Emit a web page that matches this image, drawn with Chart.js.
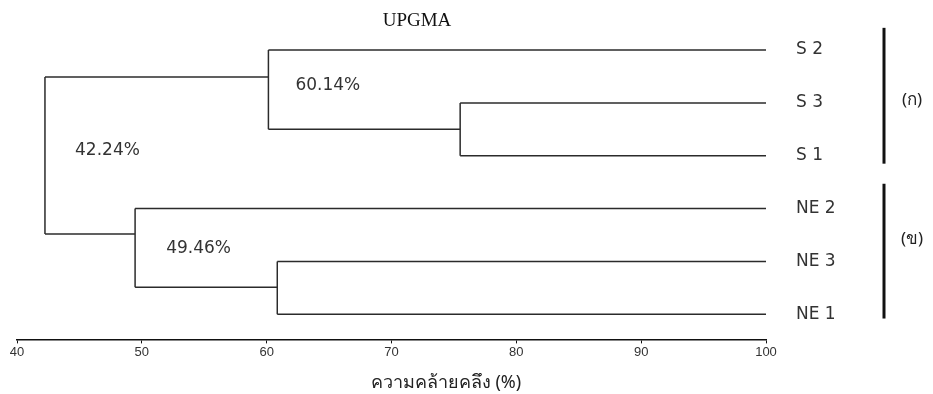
<!DOCTYPE html>
<html>
<head>
<meta charset="utf-8">
<script src="https://cdn.jsdelivr.net/npm/chart.js@4.4.1/dist/chart.umd.min.js"></script>
<style>
  html, body { margin: 0; padding: 0; background: #fff; }
  #wrap { width: 933px; height: 394px; }
</style>
</head>
<body>
<div id="wrap"><canvas id="canvas"></canvas></div>
<script>
// leaves, top to bottom
const leafNames = ['S 2', 'S 3', 'S 1', 'NE 2', 'NE 3', 'NE 1'];
const leafRows = [0, 1, 2, 3, 4, 5];
const leafJoin = [60.14, 75.5, 75.5, 49.46, 60.85, 60.85];

// internal nodes: similarity, vertical span, row where the parent line leaves, parent similarity
const nodeSim = [75.5, 60.85, 60.14, 49.46, 42.24];
const nodeTop = [1, 4, 0, 3, 0.51];
const nodeBottom = [2, 5, 1.5, 4.49, 3.48];
const nodeRow = [1.5, 4.49, 0.51, 3.48, null];
const nodeParent = [60.14, 49.46, 42.24, 42.24, null];

// percentage labels on the branches
const pctText = ['60.14%', '42.24%', '49.46%'];
const pctX = [62.3, 44.65, 51.95];
const pctRow = [0.67, 1.9, 3.75];

// groups on the right
const groupText = ['(ก)', '(ข)'];
const groupFrom = [-0.42, 2.53];
const groupTo = [2.15, 5.08];
const groupLabelRow = [0.95, 3.57];

const xTicks = [40, 50, 60, 70, 80, 90, 100];
const axisTitle = 'ความคล้ายคลึง (%)';

const lineColor = '#2b2b2b';
const datasets = [];
function seg(x1, y1, x2, y2) {
  datasets.push({
    data: [{ x: x1, y: y1 }, { x: x2, y: y2 }],
    showLine: true,
    borderColor: lineColor,
    borderWidth: 1.5,
    pointRadius: 0,
    fill: false,
  });
}
for (let i = 0; i < leafNames.length; i++) {
  seg(leafJoin[i], leafRows[i], 100, leafRows[i]);
}
for (let i = 0; i < nodeSim.length; i++) {
  seg(nodeSim[i], nodeTop[i], nodeSim[i], nodeBottom[i]);
  if (nodeRow[i] !== null) seg(nodeParent[i], nodeRow[i], nodeSim[i], nodeRow[i]);
}

const textPlugin = {
  id: 'texts',
  afterDraw(chart) {
    const ctx = chart.ctx;
    const x = chart.scales.x, y = chart.scales.y;
    const area = chart.chartArea;
    ctx.save();
    ctx.textBaseline = 'middle';

    // title
    ctx.fillStyle = '#111';
    ctx.font = '19px "Liberation Serif", serif';
    ctx.textAlign = 'center';
    ctx.fillText('UPGMA', 417, 21);

    // axis title
    ctx.fillStyle = '#222';
    ctx.font = '18px "Noto Sans", "DejaVu Sans", sans-serif';
    ctx.fillText(axisTitle, 446, 383);

    // branch percentages
    ctx.fillStyle = '#333';
    ctx.font = '17px "DejaVu Sans", sans-serif';
    ctx.textAlign = 'left';
    for (let i = 0; i < pctText.length; i++) {
      ctx.fillText(pctText[i], x.getPixelForValue(pctX[i]), y.getPixelForValue(pctRow[i]));
    }

    // leaf names
    for (let i = 0; i < leafNames.length; i++) {
      ctx.fillText(leafNames[i], area.right + 30, y.getPixelForValue(leafRows[i]));
    }

    // group bars
    ctx.strokeStyle = '#111';
    ctx.lineWidth = 3;
    ctx.fillStyle = '#222';
    ctx.font = '17px "Noto Sans", "DejaVu Sans", sans-serif';
    ctx.textAlign = 'center';
    for (let i = 0; i < groupText.length; i++) {
      const y1 = y.getPixelForValue(groupFrom[i]);
      const y2 = y.getPixelForValue(groupTo[i]);
      ctx.beginPath();
      ctx.moveTo(area.right + 118, y1);
      ctx.lineTo(area.right + 118, y2);
      ctx.stroke();
      ctx.fillText(groupText[i], area.right + 146, y.getPixelForValue(groupLabelRow[i]));
    }
    ctx.restore();
  }
};

const chart = new Chart(document.getElementById('canvas'), {
  type: 'scatter',
  data: { datasets: datasets },
  options: {
    responsive: true,
    maintainAspectRatio: false,
    animation: false,
    layout: { padding: { left: 17, right: 167, top: 40, bottom: 33 } },
    plugins: { legend: { display: false }, tooltip: { enabled: false } },
    scales: {
      x: {
        type: 'linear',
        min: 40,
        max: 100,
        afterBuildTicks: function (axis) {
          axis.ticks = xTicks.map(v => ({ value: v }));
        },
        grid: { drawOnChartArea: false, drawTicks: true, tickLength: 4, color: '#111' },
        border: { color: '#111', width: 1.5 },
        ticks: {
          color: '#333',
          font: { family: '"Liberation Sans", Arial, sans-serif', size: 13 },
          padding: 1,
          maxRotation: 0,
        },
      },
      y: {
        type: 'linear',
        display: false,
        reverse: true,
        min: -0.19,
        max: 5.475,
      },
    },
  },
  plugins: [textPlugin],
});
</script>
</body>
</html>
